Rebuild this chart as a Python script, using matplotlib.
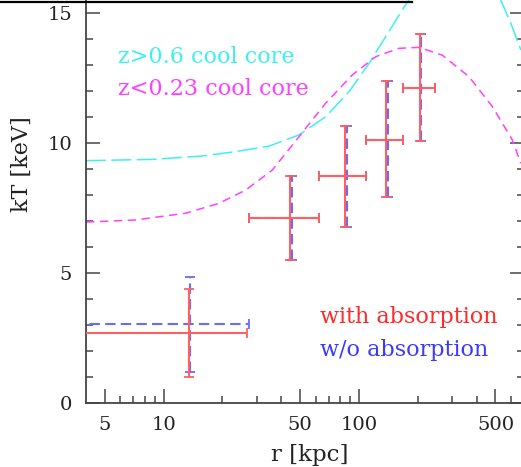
import matplotlib
matplotlib.use("Agg")
import matplotlib.pyplot as plt
import numpy as np
from matplotlib.lines import Line2D
from matplotlib.ticker import FixedLocator, FixedFormatter, NullFormatter

plt.rcParams['font.family'] = ['DejaVu Serif']

# --- data ---
# model curves (r in kpc, kT in keV)
cyan_r  = [4, 8.75, 15.8, 23.4, 34.6, 49.3, 67.5, 88.9, 112.5, 137, 173, 230, 300, 380, 460, 532, 600, 674]
cyan_kT = [9.32, 9.37, 9.50, 9.67, 9.88, 10.31, 11.01, 11.97, 13.06, 14.09, 15.31, 16.6, 17.3, 17.1, 16.3, 15.5, 14.6, 13.58]

mag_r  = [4, 7.19, 12.96, 19.2, 26.3, 36.0, 49.3, 67.5, 92.5, 121.8, 160, 203, 267, 366, 482, 610, 674]
mag_kT = [6.96, 7.04, 7.30, 7.68, 8.19, 8.96, 10.24, 11.53, 12.62, 13.32, 13.64, 13.68, 13.38, 12.55, 11.40, 10.12, 9.22]

# data points "with absorption"
r_abs     = [13.4, 44.5, 85.1, 138, 206]
r_lo      = [2.0, 27.2, 62.4, 108, 169]
r_hi      = [26.8, 62.4, 108, 169, 246]
kT_abs    = [2.70, 7.10, 8.72, 10.12, 12.13]
kT_abs_hi = [4.38, 8.74, 10.64, 12.37, 14.19]
kT_abs_lo = [1.01, 5.50, 6.78, 7.91, 10.08]

# data points "w/o absorption"
r_noabs     = [13.7, 45.3, 86.8, 140, 208]
r_lo_noabs  = [2.0, 27.2, 62.4, 108, 169]
r_hi_noabs  = [27.2, 62.4, 108, 169, 246]
kT_noabs    = [3.04, 7.10, 8.72, 10.12, 12.13]
kT_noabs_hi = [4.85, 8.74, 10.64, 12.37, 14.19]
kT_noabs_lo = [1.18, 5.50, 6.78, 7.91, 10.08]

xmajor = [5, 10, 50, 100, 500]
xmajor_labels = ['5', '10', '50', '100', '500']
xminor = [6, 7, 8, 9, 20, 30, 40, 60, 70, 80, 90, 200, 300, 400, 600]

W, H = 521, 467
fig = plt.figure(figsize=(W / 100, H / 100), dpi=100)
ax = fig.add_axes([86 / W, (H - 403) / H, 438 / W, 403 / H])
ax.set_xscale('log')
ax.set_xlim(4, 700)
ax.set_ylim(0, 15.5)

ax.plot(cyan_r, cyan_kT, color='#40f0f0', lw=1.1, dashes=(13, 3.6), zorder=2)
ax.plot(mag_r, mag_kT, color='#ff40ff', lw=1.1, dashes=(5.5, 3.6), zorder=2)

def draw(r, rlo, rhi, kT, klo, khi, color, ls, z):
    r = np.array(r); kT = np.array(kT)
    xerr = [r - np.array(rlo), np.array(rhi) - r]
    yerr = [kT - np.array(klo), np.array(khi) - kT]
    eb = ax.errorbar(r, kT, xerr=xerr, yerr=yerr, fmt='none', ecolor=color,
                     elinewidth=1.5, capsize=3.5, capthick=1.3, zorder=z)
    for lc in eb[2]:
        lc.set_linestyle(ls)

draw(r_noabs, r_lo_noabs, r_hi_noabs, kT_noabs, kT_noabs_lo, kT_noabs_hi, '#6a6aff', (0, (5, 2.5)), 3)
draw(r_abs, r_lo, r_hi, kT_abs, kT_abs_lo, kT_abs_hi, '#ff6060', '-', 4)

# ticks
ax.xaxis.set_major_locator(FixedLocator(xmajor))
ax.xaxis.set_major_formatter(FixedFormatter(xmajor_labels))
ax.xaxis.set_minor_locator(FixedLocator(xminor))
ax.xaxis.set_minor_formatter(NullFormatter())
ax.set_yticks([0, 5, 10, 15])
ax.set_yticks(np.arange(0, 16, 1), minor=True)
ax.tick_params(which='both', direction='in', top=False, right=True,
               color='#555555', width=1.2, labelsize=14, labelcolor='#222222')
ax.tick_params(which='major', length=10)
ax.tick_params(which='minor', length=5)
ax.tick_params(axis='y', pad=10)
ax.tick_params(axis='x', pad=9)
for s in ['top', 'right']:
    ax.spines[s].set_visible(False)
for s in ['left', 'bottom']:
    ax.spines[s].set_color('#444444')
    ax.spines[s].set_linewidth(1.3)

ax.set_xlabel('r [kpc]', fontsize=16.5, color='#222222')
ax.set_ylabel('kT [keV]', fontsize=16, color='#222222')
ax.xaxis.label.set_va('center')
ax.xaxis.set_label_coords((310 - 86) / 438, (403 - 455) / 403)
ax.yaxis.label.set_va('center')
ax.yaxis.label.set_ha('center')
ax.yaxis.set_label_coords((21.5 - 86) / 438, (403 - 164) / 403)

ax.text(0.073, 0.844, 'z>0.6 cool core', color='#40f0f0', fontsize=16,
        transform=ax.transAxes, va='baseline', ha='left')
ax.text(0.073, 0.765, 'z<0.23 cool core', color='#ff40ff', fontsize=16,
        transform=ax.transAxes, va='baseline', ha='left')
ax.text(0.534, 0.198, 'with absorption', color='#ff2a2a', fontsize=16,
        transform=ax.transAxes, va='baseline', ha='left')
ax.text(0.534, 0.1166, 'w/o absorption', color='#3a3aff', fontsize=16,
        transform=ax.transAxes, va='baseline', ha='left')

# cut-off frame edge at the top of the image
fig.add_artist(Line2D([0, 412 / W], [1 - 1.5 / H, 1 - 1.5 / H], color='black', lw=1.6,
                      transform=fig.transFigure))

fig.savefig('out.png', dpi=100)
